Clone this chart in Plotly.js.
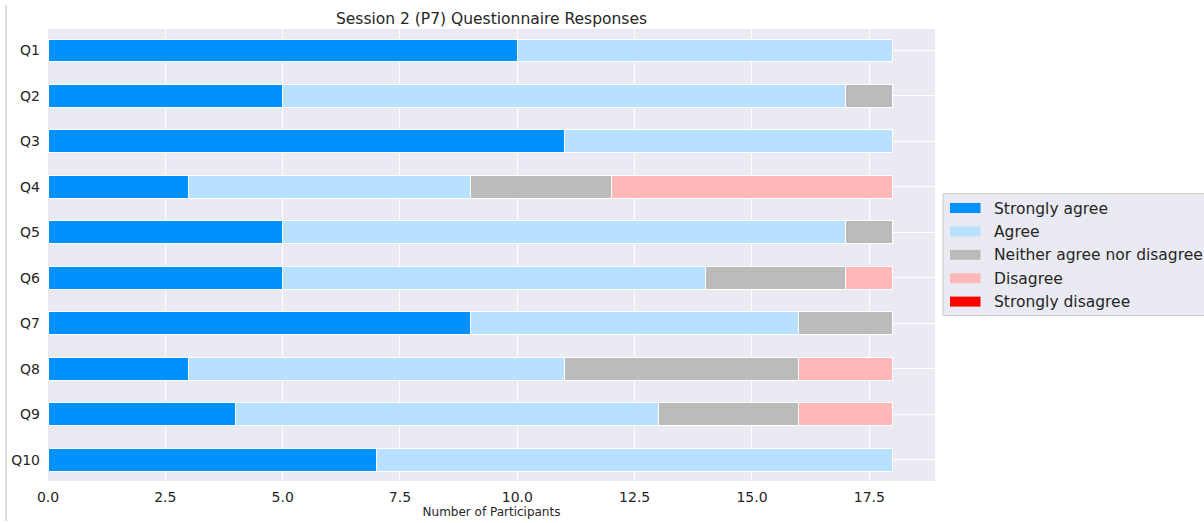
<!DOCTYPE html>
<html>
<head>
<meta charset="utf-8">
<script src="https://cdn.plot.ly/plotly-3.0.1.min.js"></script>
<style>html,body{margin:0;padding:0;background:#fff;}#chart{width:1204px;height:523px;}</style>
</head>
<body>
<div id="chart"></div>
<script>
const questions = ["Q1","Q2","Q3","Q4","Q5","Q6","Q7","Q8","Q9","Q10"];
const stronglyAgree    = [10, 5, 11, 3, 5, 5, 9, 3, 4, 7];
const agree            = [ 8,12,  7, 6,12, 9, 7, 8, 9,11];
const neither          = [ 0, 1,  0, 3, 1, 3, 2, 5, 3, 0];
const disagree         = [ 0, 0,  0, 6, 0, 1, 0, 2, 2, 0];
const stronglyDisagree = [ 0, 0,  0, 0, 0, 0, 0, 0, 0, 0];
const seriesNames  = ["Strongly agree","Agree","Neither agree nor disagree","Disagree","Strongly disagree"];
const seriesColors = ["#0091ff","#b8e0ff","#bbbbbb","#ffb8b8","#ff0000"];
const seriesValues = [stronglyAgree, agree, neither, disagree, stronglyDisagree];

const traces = seriesValues.map((vals, i) => ({
  type: "bar",
  orientation: "h",
  name: seriesNames[i],
  y: questions,
  x: vals,
  width: 0.5,
  marker: {color: seriesColors[i], line: {color: "#ffffff", width: 1}},
  hoverinfo: "x+y+name",
  showlegend: false
}));

// pixel geometry of the plot area (for the hand-drawn legend box outside the plot)
const W = 1204, H = 523, ML = 48, MR = 269, MT = 29, MB = 42;
const PW = W - ML - MR, PH = H - MT - MB;
const px = v => (v - ML) / PW;
const py = v => (H - MB - v) / PH;

const font = "DejaVu Sans, sans-serif";
const shapes = [{
  type: "line", xref: "paper", yref: "paper",
  x0: px(6), x1: px(6), y0: py(5), y1: py(521),
  line: {color: "#bbbbbb", width: 1}
}, {
  type: "rect", xref: "paper", yref: "paper",
  x0: px(943), x1: px(1215), y0: py(193.5), y1: py(315.5),
  fillcolor: "#eaeaf2", line: {color: "#cccccc", width: 1}, layer: "above"
}];
const annotations = [];
seriesNames.forEach((name, i) => {
  const cy = 208 + i * 23.4;
  shapes.push({
    type: "rect", xref: "paper", yref: "paper",
    x0: px(950), x1: px(980.5), y0: py(cy - 5), y1: py(cy + 5),
    fillcolor: seriesColors[i], line: {width: 0}, layer: "above"
  });
  annotations.push({
    xref: "paper", yref: "paper", x: px(992), y: py(cy + 0.5), xanchor: "left", yanchor: "middle",
    text: name, showarrow: false, font: {size: 15.5, family: font, color: "#262626"}
  });
});

const layout = {
  width: W, height: H,
  barmode: "stack",
  paper_bgcolor: "#ffffff",
  plot_bgcolor: "#eaeaf2",
  margin: {l: ML, r: MR, t: MT, b: MB, pad: 0},
  font: {family: font, color: "#262626"},
  title: {text: "Session 2 (P7) Questionnaire Responses", font: {size: 15.5, family: font, color: "#262626"},
          x: 0.5, xref: "paper", xanchor: "center", y: 1, yref: "paper", yanchor: "bottom", pad: {b: 5}},
  xaxis: {
    range: [0, 18.9], dtick: 2.5, tick0: 0, tickformat: ".1f",
    showgrid: true, gridcolor: "#ffffff", gridwidth: 1, zeroline: false,
    showline: false, ticks: "", ticklen: 0, ticklabelstandoff: 6,
    tickfont: {size: 14, family: font, color: "#262626"},
    title: {text: "Number of Participants", font: {size: 12, family: font, color: "#262626"}, standoff: 3},
    automargin: false
  },
  yaxis: {
    categoryorder: "array", categoryarray: questions,
    range: [9.47, -0.47],
    showgrid: true, gridcolor: "#ffffff", gridwidth: 1, zeroline: false,
    showline: false, ticks: "", ticklen: 0, ticklabelstandoff: 7,
    tickfont: {size: 14, family: font, color: "#262626"},
    automargin: false
  },
  showlegend: false,
  shapes: shapes,
  annotations: annotations
};

Plotly.newPlot("chart", traces, layout, {displayModeBar: false});
</script>
</body>
</html>
